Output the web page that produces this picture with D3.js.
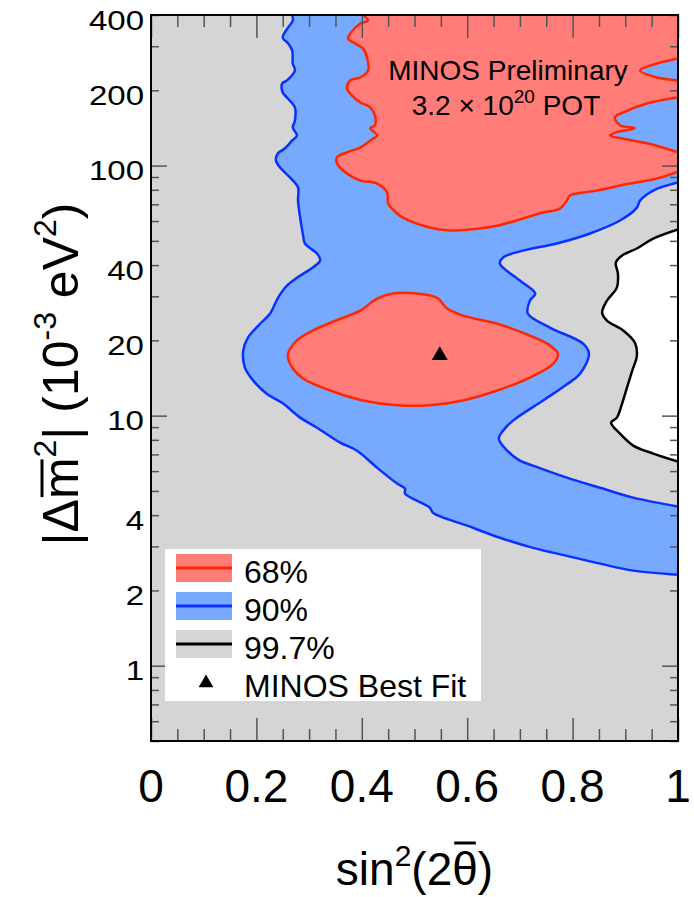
<!DOCTYPE html>
<html>
<head>
<meta charset="utf-8">
<script src="https://cdn.jsdelivr.net/npm/d3@7"></script>
<style>
body { margin: 0; background: #fff; }
svg { display: block; font-family: "Liberation Sans", Arial, sans-serif; }
</style>
</head>
<body>
<svg width="694" height="897"></svg>
<script>
// contour points: [sin^2(2theta), |dm^2| (1e-3 eV^2)]
var blueOuter = [[0.268,400],[0.269,380],[0.260,356],[0.250,325],[0.260,308],[0.268,288],[0.269,256],[0.273,240],[0.258,219],[0.249,213],[0.250,196],[0.258,187],[0.273,171],[0.273,151],[0.269,142],[0.277,132],[0.268,126],[0.254,117],[0.241,112],[0.237,105],[0.245,98.2],[0.264,89.5],[0.279,81.7],[0.279,72.4],[0.283,61.9],[0.288,53.5],[0.292,48.8],[0.306,46.1],[0.315,44.5],[0.321,41.7],[0.307,39.1],[0.277,35.6],[0.258,33.1],[0.241,29.6],[0.226,25.6],[0.207,23.3],[0.184,20.5],[0.175,18.2],[0.178,15.6],[0.194,13.8],[0.220,12.2],[0.250,11.2],[0.283,9.82],[0.315,8.95],[0.359,7.80],[0.391,7.24],[0.429,6.19],[0.467,5.35],[0.482,5.11],[0.482,4.88],[0.529,4.29],[0.535,4.09],[0.600,3.63],[0.662,3.25],[0.725,2.96],[0.789,2.75],[0.852,2.56],[0.915,2.40],[1.0,2.31]];
var blueInner = [[1.0,4.33],[0.915,4.70],[0.852,5.15],[0.789,5.65],[0.725,6.31],[0.700,6.61],[0.676,7.24],[0.660,8.09],[0.668,8.71],[0.687,9.55],[0.744,11.5],[0.786,13.2],[0.814,14.7],[0.831,17.7],[0.820,19.4],[0.757,22.5],[0.715,25.6],[0.719,28.8],[0.729,30.8],[0.700,34.7],[0.662,40.6],[0.668,42.9],[0.706,45.7],[0.770,48.8],[0.833,53.5],[0.890,60.3],[0.922,67.9],[0.928,72.4],[0.953,79.4],[1.0,85.5]];
var redTopMain = [[0.402,400],[0.412,380],[0.397,370],[0.378,337],[0.374,322],[0.387,308],[0.402,294],[0.410,270],[0.412,240],[0.397,225],[0.378,219],[0.372,203],[0.381,191],[0.397,179],[0.416,171],[0.425,158],[0.425,145],[0.416,141],[0.429,132],[0.416,126],[0.397,118],[0.372,113],[0.353,108],[0.353,102],[0.372,92.9],[0.397,87.1],[0.429,84.7],[0.448,78.0],[0.450,70.5],[0.467,64.3],[0.478,61.9],[0.529,56.5],[0.567,55.0],[0.605,55.5],[0.657,57.5],[0.706,61.4],[0.744,64.9],[0.776,67.3],[0.789,72.4],[0.795,75.9],[0.846,79.4],[0.909,84.7],[0.960,88.7],[1.0,94.6]];
var redWedgeA = [[1.0,113],[0.947,122],[0.896,128],[0.871,132],[0.884,136],[0.918,141],[0.890,145],[0.880,156],[0.896,163],[0.941,177],[1.0,187]];
var redWedgeB = [[1.0,219],[0.960,225],[0.928,240],[0.947,251],[1.0,268]];
var redIsland = [[0.260,17.7],[0.277,20.0],[0.307,21.9],[0.359,24.4],[0.397,26.3],[0.429,29.4],[0.459,30.8],[0.505,30.8],[0.543,29.6],[0.562,26.8],[0.592,25.1],[0.657,23.3],[0.719,20.9],[0.757,19.1],[0.772,17.7],[0.763,16.1],[0.719,14.2],[0.657,12.6],[0.592,11.5],[0.529,11.0],[0.467,11.0],[0.402,11.5],[0.340,12.6],[0.288,14.1],[0.264,16.1]];
var blackLine = [[1.0,55.5],[0.953,51.0],[0.922,46.6],[0.894,43.7],[0.882,40.9],[0.886,37.0],[0.884,32.5],[0.865,28.8],[0.856,25.8],[0.865,24.0],[0.896,21.9],[0.918,19.6],[0.922,17.4],[0.913,15.1],[0.903,12.9],[0.894,11.2],[0.884,9.82],[0.873,9.38],[0.890,8.47],[0.915,7.59],[0.953,7.05],[1.0,6.55]];
var bestFit = [0.548, 17.4];

var xTickLabels = [0, 0.2, 0.4, 0.6, 0.8, 1];
var yTickLabels = [1, 2, 4, 10, 20, 40, 100, 200, 400];
var legendLabels = ["68%", "90%", "99.7%", "MINOS Best Fit"];

var gray = "#d5d5d5",
    blueFill = "#77aaff", blueLine = "#0a30ff",
    redFill = "#ff7c78", redLine = "#ff2600";

var svg = d3.select("svg"),
    margin = {top: 15, right: 16, bottom: 156, left: 151},
    width = +svg.attr("width") - margin.left - margin.right,
    height = +svg.attr("height") - margin.top - margin.bottom,
    g = svg.append("g").attr("transform", "translate(" + margin.left + "," + margin.top + ")");

var x = d3.scaleLinear().domain([0, 1]).range([0, width]);
var y = d3.scaleLog().domain([0.5, 400]).range([height, 0]);

var line = d3.line()
    .x(function(d) { return x(d[0]); })
    .y(function(d) { return y(d[1]); })
    .curve(d3.curveCatmullRom.alpha(0.5));

// fill path made of several contour pieces joined along the frame, closed at a corner
var joined = function (parts, corner) {
    var p = parts.map(function (pts, i) {
        var s = line(pts);
        return i ? "L" + s.slice(1) : s;
    }).join("");
    return p + "L" + x(corner[0]) + "," + y(corner[1]) + "Z";
};

svg.append("defs").append("clipPath").attr("id", "plot")
  .append("rect").attr("width", width).attr("height", height);

var area = g.append("g").attr("clip-path", "url(#plot)");

area.append("rect").attr("width", width).attr("height", height).attr("fill", gray);

area.append("path").attr("d", joined([blackLine], blackLine[0])).attr("fill", "#fff");
area.append("path").attr("d", joined([blueOuter, blueInner], [1, 400])).attr("fill", blueFill);
area.append("path").attr("d", joined([redTopMain, redWedgeA, redWedgeB], [1, 400])).attr("fill", redFill);
area.append("path").attr("d", d3.line().x(function(d) { return x(d[0]); }).y(function(d) { return y(d[1]); })
    .curve(d3.curveCatmullRomClosed.alpha(0.5))(redIsland)).attr("fill", redFill)
    .attr("stroke", redLine).attr("stroke-width", 2.5);

[[blueOuter, blueLine], [blueInner, blueLine], [redTopMain, redLine], [redWedgeA, redLine],
 [redWedgeB, redLine], [blackLine, "#000"]].forEach(function (c) {
    area.append("path").attr("d", line(c[0])).attr("fill", "none")
        .attr("stroke", c[1]).attr("stroke-width", 2.5).attr("stroke-linejoin", "round");
});

area.append("path")
    .attr("d", d3.symbol(d3.symbolTriangle, 110)())
    .attr("transform", "translate(" + x(bestFit[0]) + "," + y(bestFit[1]) + ")");

// ticks, all pointing inward
var xMajor = [0, 0.2, 0.4, 0.6, 0.8, 1];
var xMinor = d3.range(1, 20).map(function (i) { return i * 0.05; })
    .filter(function (v) { return Math.abs(v * 5 - Math.round(v * 5)) > 1e-6; });
var yMajor = [1, 10, 100];
var yMinor = [];
[0.1, 1, 10, 100].forEach(function (dec) {
    d3.range(2, 10).forEach(function (k) {
        var v = k * dec;
        if (v >= 0.5 && v <= 400) yMinor.push(v);
    });
});

var tickAxis = function (axis, vals, size, tr) {
    var a = g.append("g").attr("transform", tr)
        .call(axis.tickValues(vals).tickSize(-size).tickFormat(""));
    a.select(".domain").remove();
    a.selectAll("line").attr("stroke", "#555").attr("stroke-width", 1.5);
};
tickAxis(d3.axisBottom(x), xMinor, 12, "translate(0," + height + ")");
tickAxis(d3.axisBottom(x), xMajor, 23, "translate(0," + height + ")");
tickAxis(d3.axisTop(x), xMinor, 12, "translate(0,0)");
tickAxis(d3.axisTop(x), xMajor, 23, "translate(0,0)");
tickAxis(d3.axisLeft(y), yMinor, 8, "translate(0,0)");
tickAxis(d3.axisLeft(y), yMajor, 16, "translate(0,0)");
tickAxis(d3.axisRight(y), yMinor, 8, "translate(" + width + ",0)");
tickAxis(d3.axisRight(y), yMajor, 16, "translate(" + width + ",0)");

g.append("rect").attr("width", width).attr("height", height)
    .attr("fill", "none").attr("stroke", "#000").attr("stroke-width", 2);

// tick labels
g.selectAll(".ylab").data(yTickLabels).enter().append("text")
    .attr("class", "ylab")
    .attr("transform", function (d) { return "translate(-7," + (y(d) + 14.5) + ") scale(1.18,1)"; })
    .attr("text-anchor", "end").attr("font-size", 28)
    .text(function (d) { return d; });

g.selectAll(".xlab").data(xTickLabels).enter().append("text")
    .attr("class", "xlab")
    .attr("x", function (d) { return x(d); }).attr("y", height + 61)
    .attr("text-anchor", "middle").attr("font-size", 46)
    .text(function (d) { return d; });

// overline over one character of a text element
var overline = function (parent, textSel, idx, off, w) {
    var node = textSel.node();
    var a = node.getStartPositionOfChar(idx), b = node.getEndPositionOfChar(idx);
    parent.append("line")
        .attr("x1", a.x + 2).attr("x2", b.x - 2)
        .attr("y1", a.y - off).attr("y2", b.y - off)
        .attr("stroke", "#000").attr("stroke-width", w);
};

// x title
var xt = svg.append("g").attr("transform", "translate(" + (margin.left + width / 2) + ",885)");
var xtext = xt.append("text").attr("text-anchor", "middle").attr("font-size", 46);
xtext.append("tspan").text("sin");
xtext.append("tspan").attr("font-size", 30).attr("dy", -19).text("2");
xtext.append("tspan").attr("dy", 19).text("(2θ)");
overline(xt, xtext, 6, 42, 3);

// y title
var yt = svg.append("g").attr("transform", "translate(78," + (margin.top + height / 2 - 4) + ") rotate(-90)");
var ytext = yt.append("text").attr("text-anchor", "middle").attr("font-size", 50);
ytext.append("tspan").text("|Δm");
ytext.append("tspan").attr("font-size", 32).attr("dy", -22).text("2");
ytext.append("tspan").attr("dy", 22).text("| (10");
ytext.append("tspan").attr("font-size", 32).attr("dy", -22).text("-3");
ytext.append("tspan").attr("dy", 22).text(" eV");
ytext.append("tspan").attr("font-size", 32).attr("dy", -22).text("2");
ytext.append("tspan").attr("dy", 22).text(")");
overline(yt, ytext, 2, 36, 3);

// label in the plot
g.append("text").attr("x", 357).attr("y", 65).attr("text-anchor", "middle")
    .attr("font-size", 28).text("MINOS Preliminary");
var pot = g.append("text").attr("x", 355).attr("y", 100).attr("text-anchor", "middle").attr("font-size", 28);
pot.append("tspan").text("3.2 × 10");
pot.append("tspan").attr("font-size", 19).attr("dy", -12).text("20");
pot.append("tspan").attr("dy", 12).text(" POT");

// legend
var leg = g.append("g").attr("transform", "translate(14,534)");
leg.append("rect").attr("width", 316).attr("height", 152).attr("fill", "#fff");
var swatches = [[redFill, redLine], [blueFill, blueLine], [gray, "#000"]];
legendLabels.forEach(function (lab, i) {
    var cy = 19 + i * 38;
    if (i < 3) {
        leg.append("rect").attr("x", 11).attr("y", cy - 14).attr("width", 56).attr("height", 28)
            .attr("fill", swatches[i][0]);
        leg.append("line").attr("x1", 11).attr("x2", 67).attr("y1", cy).attr("y2", cy)
            .attr("stroke", swatches[i][1]).attr("stroke-width", 3);
    } else {
        leg.append("path").attr("d", d3.symbol(d3.symbolTriangle, 95)())
            .attr("transform", "translate(41," + (cy + 1) + ")");
    }
    leg.append("text").attr("x", 79).attr("y", cy + 15).attr("font-size", 32).text(lab);
});
</script>
</body>
</html>
